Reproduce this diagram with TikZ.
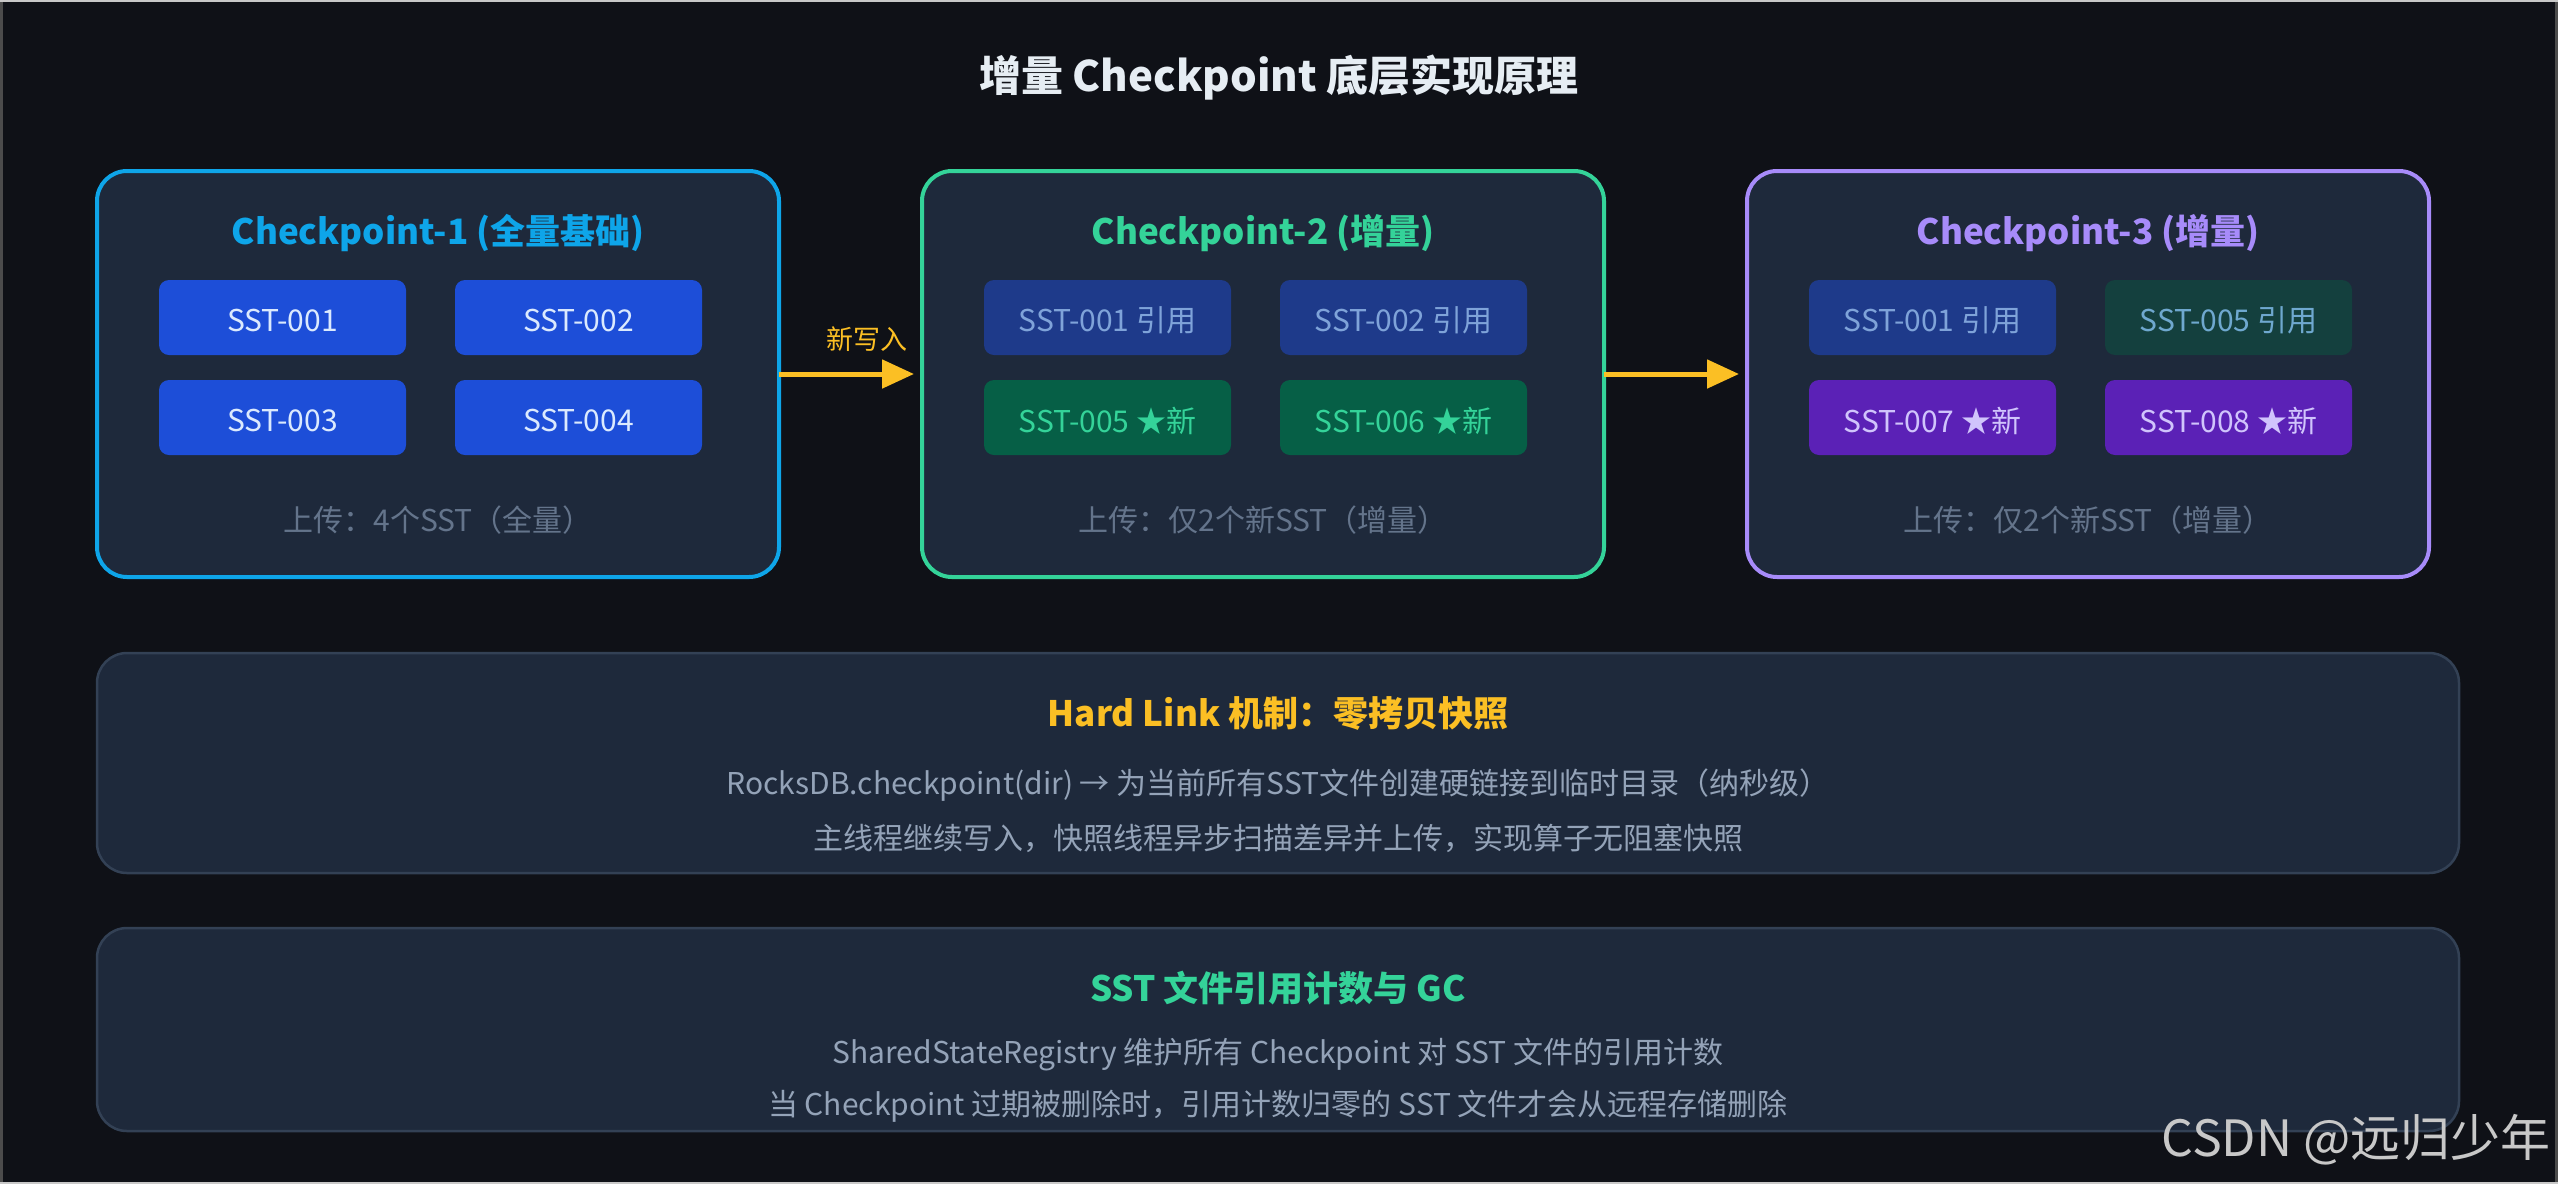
\documentclass[tikz,border=0pt]{standalone}
\usepackage{fontspec}
\setmainfont{Noto Sans CJK SC}
\usetikzlibrary{arrows.meta}
\definecolor{bg}{HTML}{0F1117}
\definecolor{panel}{HTML}{1E293B}
\definecolor{panelborder}{HTML}{334155}
\definecolor{cpone}{HTML}{0EA5E9}
\definecolor{cptwo}{HTML}{34D399}
\definecolor{cpthree}{HTML}{A78BFA}
\definecolor{amber}{HTML}{FBBF24}
\definecolor{titlecol}{HTML}{E6EDF3}
\definecolor{muted}{HTML}{64748B}
\definecolor{desc}{HTML}{94A3B8}
\definecolor{sstblue}{HTML}{1D4ED8}
\definecolor{sstbluetext}{HTML}{DBEAFE}
\definecolor{refblue}{HTML}{1E3A8A}
\definecolor{refbluetext}{HTML}{7FA3D9}
\definecolor{newgreen}{HTML}{065F46}
\definecolor{newgreentext}{HTML}{34D399}
\definecolor{refteal}{HTML}{14403E}
\definecolor{reftealtext}{HTML}{6FA8CF}
\definecolor{newpurple}{HTML}{5B21B6}
\definecolor{newpurpletext}{HTML}{D0C4FC}
\definecolor{watermark}{HTML}{C8C8C8}
\tikzset{
  cpbox/.style={draw, line width=4pt, fill=panel, rounded corners=30pt,
    minimum width=682pt, minimum height=406pt, inner sep=0pt, outer sep=0pt},
  infobox/.style={draw=panelborder, line width=2.5pt, fill=panel, rounded corners=30pt,
    minimum width=2362pt, inner sep=0pt, outer sep=0pt},
  boxtitle/.style={font=\fontsize{35}{42}\selectfont\bfseries, inner sep=0pt, yshift=-3pt},
  ssttile/.style={rounded corners=10pt, minimum width=247pt, minimum height=75pt,
    inner sep=0pt, font=\fontsize{30}{36}\selectfont},
  tiletext/.style={font=\fontsize{30}{36}\selectfont, inner sep=0pt, yshift=-3pt},
  footer/.style={font=\fontsize{30}{36}\selectfont, text=muted, inner sep=0pt},
  descline/.style={font=\fontsize{30}{36}\selectfont, text=desc, inner sep=0pt},
  flowarrow/.style={draw=amber, line width=5pt, -{Triangle[length=32pt,width=28pt]}}
}
\begin{document}
\begin{tikzpicture}[x=1pt,y=-1pt]
\useasboundingbox (0,0) rectangle (2558,1184);
\fill[bg] (0,0) rectangle (2558,1184);
% frame edges
\draw[line width=3pt, color=black!70!white] (1.5,0) -- (1.5,1184);
\draw[line width=3pt, color=black!70!white] (2556.5,0) -- (2556.5,1184);
\draw[line width=2pt, color=watermark] (0,1) -- (2558,1);
\draw[line width=2pt, color=watermark] (0,1183) -- (2558,1183);

% title
\node[font=\fontsize{42}{50}\selectfont\bfseries, text=titlecol, inner sep=0pt] (title) at (1279,78) {增量 Checkpoint 底层实现原理};

% checkpoint boxes
\node[cpbox, draw=cpone] (cp1) at (438,374) {};
\node[cpbox, draw=cptwo] (cp2) at (1263,374) {};
\node[cpbox, draw=cpthree] (cp3) at (2088,374) {};

\node[boxtitle, text=cpone] (t1) at (438,230) {Checkpoint-1 (全量基础)};
\node[boxtitle, text=cptwo] (t2) at (1263,230) {Checkpoint-2 (增量)};
\node[boxtitle, text=cpthree] (t3) at (2088,230) {Checkpoint-3 (增量)};

% checkpoint 1 tiles
\node[ssttile, fill=sstblue] (a1) at (282.5,317.5) {};
\node[tiletext, text=sstbluetext] (a1t) at (a1.center) {SST-001};
\node[ssttile, fill=sstblue] (a2) at (578.5,317.5) {};
\node[tiletext, text=sstbluetext] (a2t) at (a2.center) {SST-002};
\node[ssttile, fill=sstblue] (a3) at (282.5,417.5) {};
\node[tiletext, text=sstbluetext] (a3t) at (a3.center) {SST-003};
\node[ssttile, fill=sstblue] (a4) at (578.5,417.5) {};
\node[tiletext, text=sstbluetext] (a4t) at (a4.center) {SST-004};

% checkpoint 2 tiles
\node[ssttile, fill=refblue] (b1) at (1107.5,317.5) {};
\node[tiletext, text=refbluetext] (b1t) at (b1.center) {SST-001 引用};
\node[ssttile, fill=refblue] (b2) at (1403.5,317.5) {};
\node[tiletext, text=refbluetext] (b2t) at (b2.center) {SST-002 引用};
\node[ssttile, fill=newgreen] (b3) at (1107.5,417.5) {};
\node[tiletext, text=newgreentext] (b3t) at (b3.center) {SST-005 ★新};
\node[ssttile, fill=newgreen] (b4) at (1403.5,417.5) {};
\node[tiletext, text=newgreentext] (b4t) at (b4.center) {SST-006 ★新};

% checkpoint 3 tiles
\node[ssttile, fill=refblue] (c1) at (1932.5,317.5) {};
\node[tiletext, text=refbluetext] (c1t) at (c1.center) {SST-001 引用};
\node[ssttile, fill=refteal] (c2) at (2228.5,317.5) {};
\node[tiletext, text=reftealtext] (c2t) at (c2.center) {SST-005 引用};
\node[ssttile, fill=newpurple] (c3) at (1932.5,417.5) {};
\node[tiletext, text=newpurpletext] (c3t) at (c3.center) {SST-007 ★新};
\node[ssttile, fill=newpurple] (c4) at (2228.5,417.5) {};
\node[tiletext, text=newpurpletext] (c4t) at (c4.center) {SST-008 ★新};

% footers
\node[footer] (f1) at (438,520) {上传：4个SST（全量）};
\node[footer] (f2) at (1263,520) {上传：仅2个新SST（增量）};
\node[footer] (f3) at (2088,520) {上传：仅2个新SST（增量）};

% arrows
\coordinate (e1) at (914,374);
\coordinate (e2) at (1739,374);
\draw[flowarrow] (cp1.east) -- (e1);
\draw[flowarrow] (cp2.east) -- (e2);
\node[font=\fontsize{27}{32}\selectfont, text=amber, inner sep=0pt] (lbl) at (867,339) {新写入};

% hard link panel
\node[infobox, minimum height=220pt] (hl) at (1278,763) {};
\node[boxtitle, text=amber] (hlt) at (1278,710) {Hard Link 机制：零拷贝快照};
\node[descline] (hl1) at (1278,785) {RocksDB.checkpoint(dir) → 为当前所有SST文件创建硬链接到临时目录（纳秒级）};
\node[descline] (hl2) at (1278,838) {主线程继续写入，快照线程异步扫描差异并上传，实现算子无阻塞快照};

% gc panel
\node[infobox, minimum height=203pt] (gc) at (1278,1029.5) {};
\node[boxtitle, text=cptwo] (gct) at (1278,985) {SST 文件引用计数与 GC};
\node[descline] (gc1) at (1278,1055) {SharedStateRegistry 维护所有 Checkpoint 对 SST 文件的引用计数};
\node[descline] (gc2) at (1278,1106) {当 Checkpoint 过期被删除时，引用计数归零的 SST 文件才会从远程存储删除};

% watermark
\node[font=\fontsize{50}{58}\selectfont, text=watermark, anchor=east, inner sep=0pt] (wm) at (2551,1140) {CSDN @远归少年};
\end{tikzpicture}
\end{document}
